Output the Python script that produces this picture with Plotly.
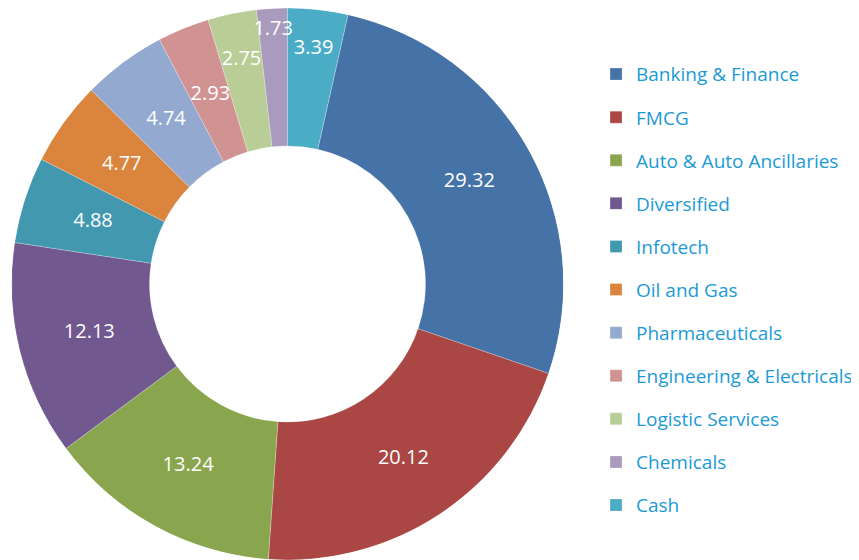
import plotly.graph_objects as go

labels = ["Banking & Finance", "FMCG", "Auto & Auto Ancillaries", "Diversified", "Infotech",
          "Oil and Gas", "Pharmaceuticals", "Engineering & Electricals", "Logistic Services",
          "Chemicals", "Cash"]
# slice sizes as drawn in the picture (the Banking slice is drawn smaller than its label)
values = [25.8, 20.12, 13.24, 12.13, 4.88, 4.77, 4.74, 2.93, 2.75, 1.73, 3.39]
# data labels printed on the slices
value_labels = ["29.32", "20.12", "13.24", "12.13", "4.88", "4.77", "4.74", "2.93", "2.75", "1.73", "3.39"]
colors = ["#4572A7", "#AA4643", "#89A54E", "#71588F", "#4198AF", "#DB843D",
          "#93A9CF", "#D19392", "#B9CD96", "#A99BBD", "#4BACC6"]

# ---- derived geometry (angles in degrees, clockwise from 12 o'clock) ----
total = sum(values)
spans = [360 * v / total for v in values]
start = spans[-1]  # last slice (Cash) ends at 12 o'clock
mids = []
acc = start
for s in spans:
    mids.append(acc + s / 2)
    acc += s

hole = 0.5
# radial placement of data labels (fraction of outer radius); thin top slices pushed outward
label_radius = [0.755, 0.76, 0.75, 0.74, 0.74, 0.74, 0.74, 0.74, 0.83, 0.92, 0.857]

fig = go.Figure()
for lab, col, th, w in zip(labels, colors, mids, spans):
    fig.add_trace(go.Barpolar(
        theta=[th], r=[1 - hole], base=[hole], width=[w], name=lab, legendgroup=lab,
        marker=dict(color=col, line=dict(color="rgba(255,255,255,0.5)", width=0.5)),
        hovertemplate=lab + "<extra></extra>",
    ))

fig.add_trace(go.Scatterpolar(
    theta=mids, r=label_radius, text=value_labels, mode="text",
    textposition="middle center",
    textfont=dict(family="Open Sans", size=20, color="white"),
    showlegend=False, hoverinfo="skip",
))

fig.update_layout(
    width=851, height=552,
    margin=dict(l=0, r=0, t=0, b=0),
    paper_bgcolor="white",
    polar=dict(
        domain=dict(x=[0.00411, 0.6528], y=[0, 1]),
        bgcolor="rgba(0,0,0,0)", bargap=0,
        radialaxis=dict(range=[0, 1], visible=False),
        angularaxis=dict(direction="clockwise", rotation=90, visible=False),
    ),
    showlegend=True,
    legend=dict(x=0.691, xanchor="left", y=0.9145, yanchor="top",
                font=dict(family="Open Sans", size=19, color="#1b9ad6"),
                tracegroupgap=15.4, itemclick=False, itemdoubleclick=False,
                bgcolor="rgba(0,0,0,0)"),
)

fig.write_html("out.html")
